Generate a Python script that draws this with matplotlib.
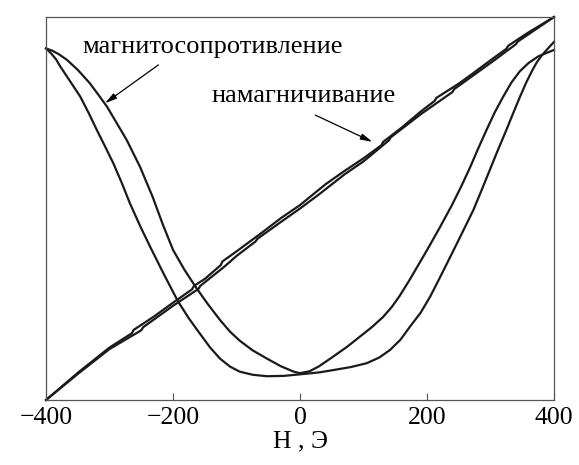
import matplotlib.pyplot as plt

plt.rcParams['font.family'] = ['Liberation Serif', 'DejaVu Serif']

# magnetisation, two branches (small Barkhausen steps)
mag_up_H = [-400, -350, -300, -265, -262, -230, -200, -170, -167, -150, -125, -122, -100, -60, -30, 0,
            40, 70, 100, 128, 131, 160, 190, 212, 215, 250, 270, 300, 325, 328, 360, 400]
mag_up_y = [0.0, 0.071, 0.137, 0.174, 0.183, 0.218, 0.254, 0.289, 0.298, 0.316, 0.352, 0.362, 0.388,
            0.437, 0.475, 0.509, 0.563, 0.598, 0.631, 0.665, 0.674, 0.711, 0.753, 0.781, 0.789, 0.826,
            0.850, 0.887, 0.917, 0.925, 0.960, 1.0]
mag_dn_H = [-400, -350, -300, -250, -247, -200, -160, -157, -120, -100, -70, -67, -30, 0, 30, 70, 100,
            140, 143, 190, 240, 243, 280, 310, 340, 343, 400]
mag_dn_y = [0.0, 0.068, 0.133, 0.182, 0.190, 0.246, 0.290, 0.298, 0.347, 0.376, 0.414, 0.421, 0.465,
            0.500, 0.537, 0.589, 0.623, 0.678, 0.686, 0.746, 0.804, 0.812, 0.856, 0.892, 0.929, 0.936, 1.0]

# magnetoresistance: wide branch (min near -50) and narrow branch (min near 0)
mr_a_H = [-400, -392, -384, -378, -362, -346, -333, -320, -307, -294, -281, -268, -252, -236, -214,
          -192, -175, -158, -142, -126, -110, -95, -75, -52, -25, 0, 30, 52, 80, 105, 125, 142, 158,
          173, 190, 205, 218, 231, 252, 273, 286, 299, 312, 325, 336, 346, 356, 365, 373, 381, 390, 400]
mr_a_y = [0.918, 0.905, 0.889, 0.872, 0.832, 0.792, 0.750, 0.705, 0.662, 0.618, 0.568, 0.514, 0.455,
          0.400, 0.327, 0.257, 0.213, 0.174, 0.138, 0.108, 0.087, 0.074, 0.066, 0.062, 0.063, 0.067,
          0.072, 0.078, 0.086, 0.096, 0.111, 0.131, 0.157, 0.191, 0.228, 0.270, 0.312, 0.355, 0.425,
          0.496, 0.548, 0.601, 0.654, 0.705, 0.750, 0.790, 0.828, 0.858, 0.882, 0.900, 0.917, 0.935]
mr_b_H = [-400, -390, -380, -367, -350, -331, -318, -304, -289, -273, -252, -232, -216, -200, -182,
          -163, -145, -126, -110, -95, -75, -52, -30, -10, 0, 15, 30, 52, 75, 94, 113, 131, 145, 157,
          172, 189, 203, 220, 239, 254, 268, 281, 294, 307, 320, 333, 346, 360, 375, 388, 400]
mr_b_y = [0.918, 0.912, 0.903, 0.888, 0.862, 0.827, 0.798, 0.766, 0.724, 0.679, 0.609, 0.530, 0.458,
          0.392, 0.340, 0.292, 0.250, 0.209, 0.178, 0.155, 0.130, 0.108, 0.088, 0.074, 0.070, 0.075,
          0.088, 0.113, 0.140, 0.165, 0.190, 0.217, 0.244, 0.272, 0.312, 0.360, 0.400, 0.450, 0.508,
          0.558, 0.608, 0.658, 0.706, 0.752, 0.792, 0.829, 0.858, 0.880, 0.897, 0.906, 0.914]

fig = plt.figure(figsize=(5.79, 4.65), dpi=100)
ax = fig.add_axes([0.0795, 0.1398, 0.8773, 0.8236])

lc = '#1a1a1a'
for H, y in [(mag_up_H, mag_up_y), (mag_dn_H, mag_dn_y), (mr_a_H, mr_a_y), (mr_b_H, mr_b_y)]:
    ax.plot(H, y, color=lc, lw=1.6, clip_on=False, solid_joinstyle='round')

ax.set_xlim(-400, 400)
ax.set_ylim(0, 1)
ax.set_xticks([-400, -200, 0, 200, 400])
ax.set_yticks([])
ax.tick_params(axis='x', direction='in', length=5, width=0.8, color='#555555',
               labelsize=18.5, pad=5)
for s in ax.spines.values():
    s.set_color('#555555')
    s.set_linewidth(0.9)
ax.set_xlabel('H , Э', fontsize=18.5, labelpad=1)

arr = dict(arrowstyle='-|>,head_length=0.7,head_width=0.18', color='black', lw=0.9,
           shrinkA=0, shrinkB=0)
ax.text(-342, 0.906, 'магнитосопротивление', fontsize=19, va='baseline', ha='left')
ax.annotate('', xy=(-307, 0.775), xytext=(-223, 0.875), arrowprops=arr)
ax.text(-140, 0.778, 'намагничивание', fontsize=19, va='baseline', ha='left')
ax.annotate('', xy=(114, 0.674), xytext=(24, 0.744), arrowprops=arr)

fig.savefig('out.png', dpi=100)
